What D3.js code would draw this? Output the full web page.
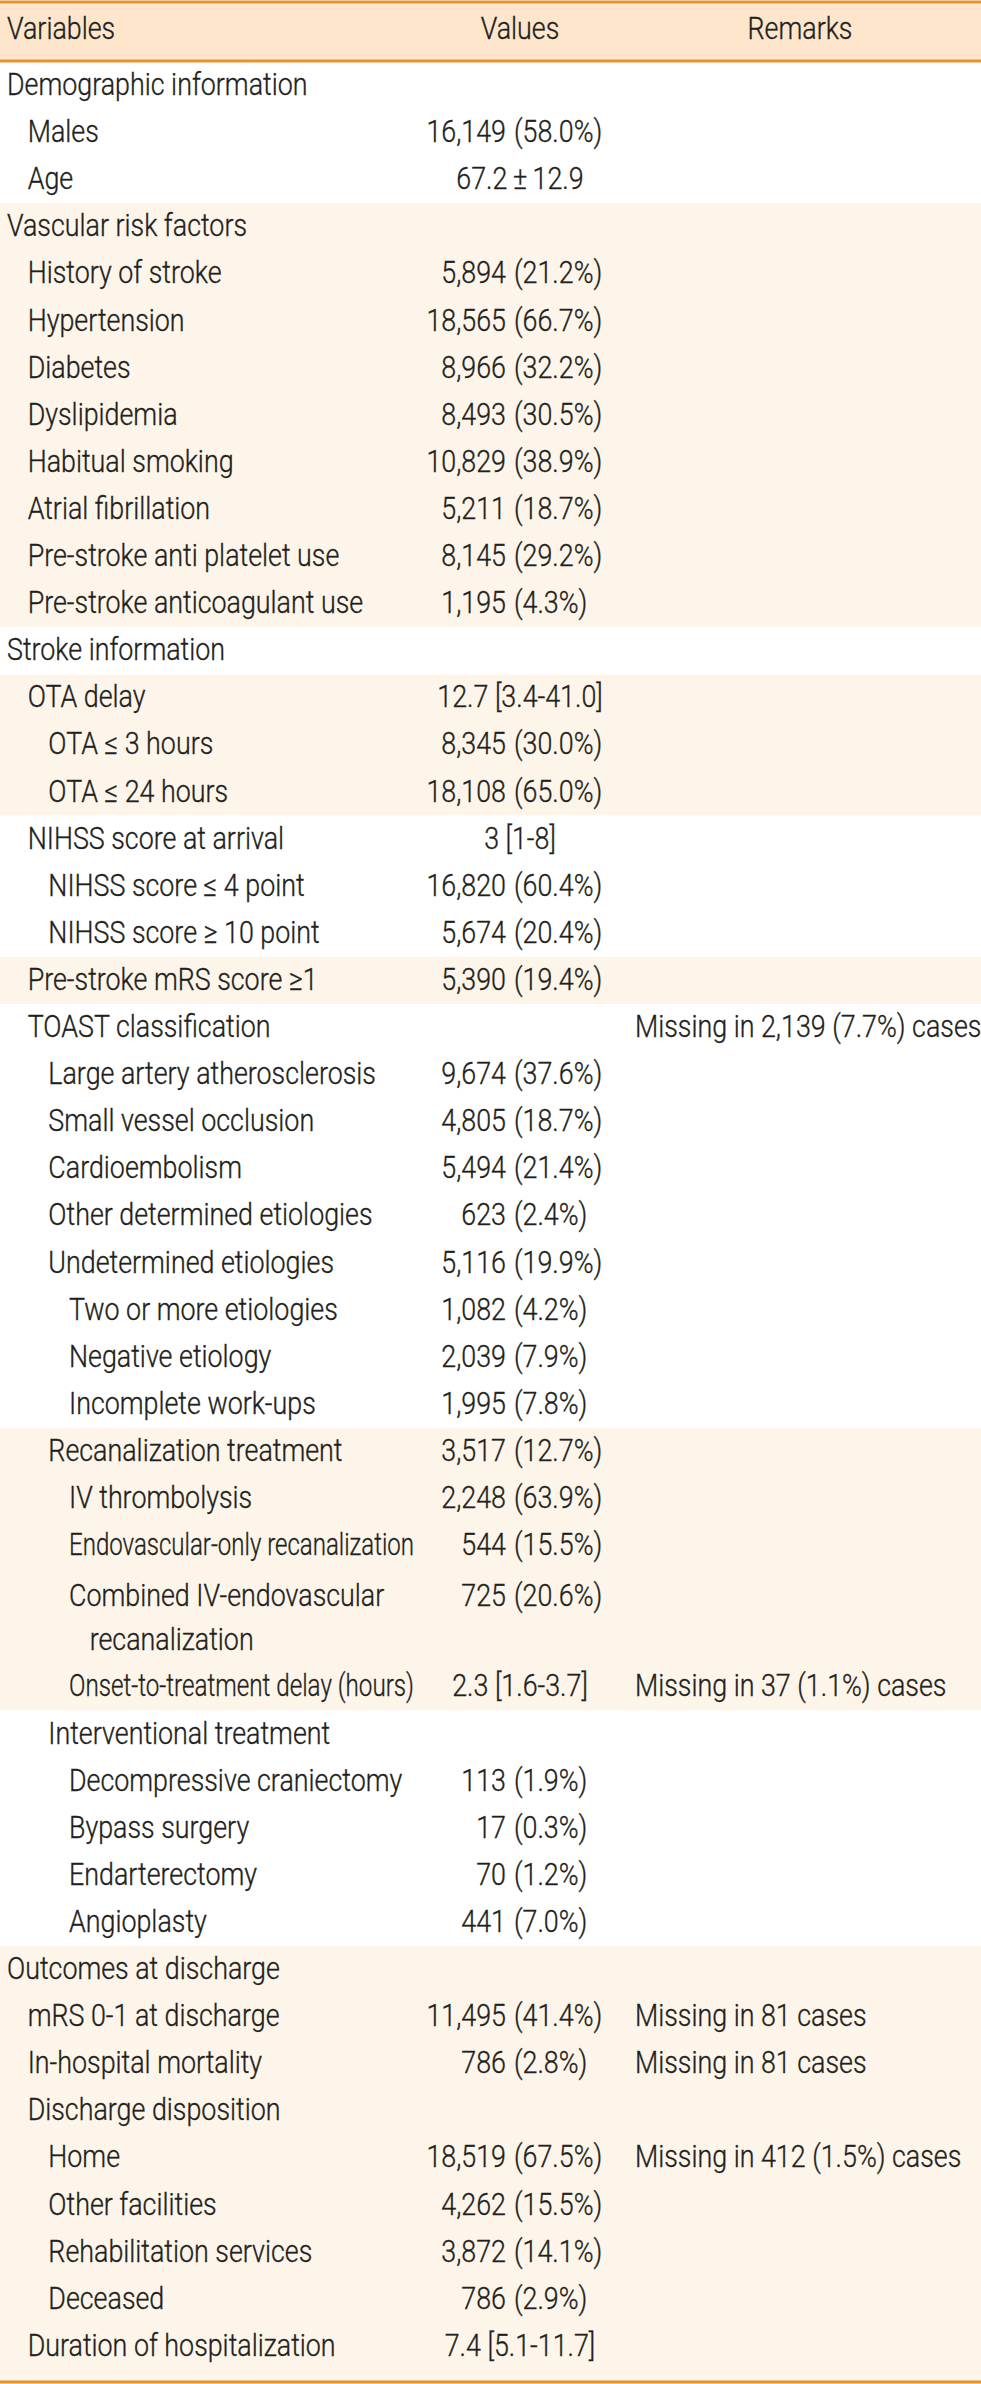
<!DOCTYPE html>
<html><head><meta charset="utf-8">
<script src="https://cdn.jsdelivr.net/npm/d3@7/dist/d3.min.js"></script>
<style>html,body{margin:0;padding:0;background:#fff}svg{display:block}</style>
</head><body><div id="chart"></div>
<script>
const headers = ["Variables", "Values", "Remarks"];

const labels = [
  "Demographic information", "Males", "Age",
  "Vascular risk factors", "History of stroke", "Hypertension", "Diabetes", "Dyslipidemia",
  "Habitual smoking", "Atrial fibrillation", "Pre-stroke anti platelet use", "Pre-stroke anticoagulant use",
  "Stroke information",
  "OTA delay", "OTA \u2264 3 hours", "OTA \u2264 24 hours",
  "NIHSS score at arrival", "NIHSS score \u2264 4 point", "NIHSS score \u2265 10 point",
  "Pre-stroke mRS score \u22651",
  "TOAST classification", "Large artery atherosclerosis", "Small vessel occlusion", "Cardioembolism",
  "Other determined etiologies", "Undetermined etiologies", "Two or more etiologies", "Negative etiology",
  "Incomplete work-ups",
  "Recanalization treatment", "IV thrombolysis", "Endovascular-only recanalization",
  "Combined IV-endovascular\nrecanalization", "Onset-to-treatment delay (hours)",
  "Interventional treatment", "Decompressive craniectomy", "Bypass surgery", "Endarterectomy", "Angioplasty",
  "Outcomes at discharge", "mRS 0-1 at discharge", "In-hospital mortality", "Discharge disposition",
  "Home", "Other facilities", "Rehabilitation services", "Deceased", "Duration of hospitalization"
];

const levels = [
  0, 1, 1,
  0, 1, 1, 1, 1, 1, 1, 1, 1,
  0,
  1, 2, 2,
  1, 2, 2,
  1,
  1, 2, 2, 2, 2, 2, 3, 3, 3,
  2, 3, 3, 3, 3,
  2, 3, 3, 3, 3,
  0, 1, 1, 1, 2, 2, 2, 2, 1
];

const values = [
  "", "16,149 (58.0%)", "67.2\u2009\u00b1\u200912.9",
  "", "5,894 (21.2%)", "18,565 (66.7%)", "8,966 (32.2%)", "8,493 (30.5%)",
  "10,829 (38.9%)", "5,211 (18.7%)", "8,145 (29.2%)", "1,195 (4.3%)",
  "",
  "12.7 [3.4-41.0]", "8,345 (30.0%)", "18,108 (65.0%)",
  "3 [1-8]", "16,820 (60.4%)", "5,674 (20.4%)",
  "5,390 (19.4%)",
  "", "9,674 (37.6%)", "4,805 (18.7%)", "5,494 (21.4%)", "623 (2.4%)", "5,116 (19.9%)",
  "1,082 (4.2%)", "2,039 (7.9%)", "1,995 (7.8%)",
  "3,517 (12.7%)", "2,248 (63.9%)", "544 (15.5%)", "725 (20.6%)", "2.3 [1.6-3.7]",
  "", "113 (1.9%)", "17 (0.3%)", "70 (1.2%)", "441 (7.0%)",
  "", "11,495 (41.4%)", "786 (2.8%)", "", "18,519 (67.5%)", "4,262 (15.5%)", "3,872 (14.1%)",
  "786 (2.9%)", "7.4 [5.1-11.7]"
];

const remarks = [
  "", "", "",
  "", "", "", "", "", "", "", "", "",
  "",
  "", "", "",
  "", "", "",
  "",
  "Missing in 2,139 (7.7%) cases", "", "", "", "", "", "", "", "",
  "", "", "", "", "Missing in 37 (1.1%) cases",
  "", "", "", "", "",
  "", "Missing in 81 cases", "Missing in 81 cases", "", "Missing in 412 (1.5%) cases", "", "", "", ""
];

// section groups (alternate shading)
const groups = [
  0, 0, 0,
  1, 1, 1, 1, 1, 1, 1, 1, 1,
  2,
  3, 3, 3,
  4, 4, 4,
  5,
  6, 6, 6, 6, 6, 6, 6, 6, 6,
  7, 7, 7, 7, 7,
  8, 8, 8, 8, 8,
  9, 9, 9, 9, 9, 9, 9, 9, 9
];

// ---------- layout ----------
const W = 981, H = 2384;
const C = {
  text: "#231f20", line: "#e8922e", head: "#fde6cb", band: "#fdf5ea", white: "#ffffff"
};
const FONT = "Roboto, 'Liberation Sans', sans-serif";
const FS = 30.5;
const SX = 0.88; // horizontal condensing of the type

const rows = labels.map((l, i) => ({
  lines: l.split("\n"), level: levels[i], value: values[i], remark: remarks[i], group: groups[i]
}));
let u = 0;
rows.forEach(r => { r.unit = u; u += r.lines.length; });
const totalUnits = u;

const headTop = 2, headBottom = 61, tableBottom = 2382;
const y = d3.scaleLinear().domain([0, totalUnits]).range([headBottom + 1, headBottom + 1 + totalUnits * 47.1]);
const indent = d3.scaleLinear().domain([0, 3]).range([7, 69]);
const col = { values: 520, split: 506, paren: 514, remarks: 635, remarksHead: 800, labelMax: 414 };

const svg = d3.select("#chart").append("svg").attr("width", W).attr("height", H)
  .style("font-family", FONT).style("font-size", FS + "px").style("font-weight", 300)
  .attr("fill", C.text).attr("stroke", C.text).attr("stroke-width", 0.35);

function txt(g, x, yy, s, anchor) {
  return g.append("text")
    .attr("transform", `translate(${x},${yy}) scale(${SX},1)`)
    .attr("text-anchor", anchor || "start")
    .text(s);
}

// header band
svg.append("rect").attr("x", 0).attr("y", headTop).attr("width", W).attr("height", headBottom - headTop)
  .attr("fill", C.head).attr("stroke", "none");

// group bands
const gExtent = d3.rollups(rows, v => [d3.min(v, r => r.unit), d3.max(v, r => r.unit + r.lines.length)], r => r.group);
const lastGroup = d3.max(groups);
svg.append("g").attr("stroke", "none").selectAll("rect").data(gExtent).join("rect")
  .attr("x", 0).attr("width", W)
  .attr("y", d => y(d[1][0]))
  .attr("height", d => (d[0] === lastGroup ? tableBottom : y(d[1][1])) - y(d[1][0]))
  .attr("fill", d => d[0] % 2 ? C.band : C.white);

// lines
[[headTop, 3], [headBottom, 3], [tableBottom, 3]].forEach(([yy, sw]) => {
  svg.append("line").attr("x1", 0).attr("x2", W).attr("y1", yy).attr("y2", yy)
    .attr("stroke", C.line).attr("stroke-width", sw);
});

// header text
const hb = 39;
txt(svg, indent(0), hb, headers[0]);
txt(svg, col.values, hb, headers[1], "middle");
txt(svg, col.remarksHead, hb, headers[2], "middle");

const base = 33;
const body = svg.append("g");
rows.forEach(r => {
  const top = y(r.unit);
  const extra = r.lines.length > 1 ? 4 : 0;
  r.lines.forEach((ln, k) => {
    const x0 = indent(r.level + (k > 0 ? 1 : 0));
    const t = txt(body, x0, top + base + extra + k * 44, ln);
    const w = t.node().getComputedTextLength() * SX;
    if (x0 + w > col.labelMax) {
      t.attr("textLength", (col.labelMax - x0) / SX).attr("lengthAdjust", "spacingAndGlyphs");
    }
  });
  const vy = top + base + extra;
  if (r.value) {
    const i = r.value.indexOf(" (");
    if (i > 0) {
      txt(body, col.split, vy, r.value.slice(0, i), "end");
      txt(body, col.paren, vy, r.value.slice(i + 1));
    } else {
      txt(body, col.values, vy, r.value, "middle");
    }
  }
  if (r.remark) txt(body, col.remarks, vy, r.remark);
});
</script>
</body></html>
